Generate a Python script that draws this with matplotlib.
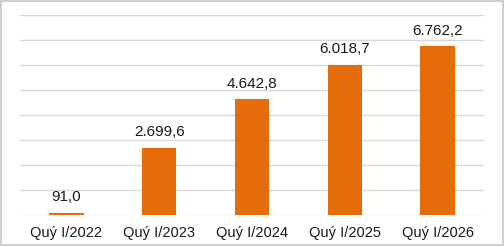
import matplotlib.pyplot as plt
from matplotlib.patches import Rectangle

plt.rcParams['font.family'] = ['Liberation Sans', 'DejaVu Sans']

quarters = ['Quý I/2022', 'Quý I/2023', 'Quý I/2024', 'Quý I/2025', 'Quý I/2026']
values = [91.0, 2699.6, 4642.8, 6018.7, 6762.2]
labels = ['91,0', '2.699,6', '4.642,8', '6.018,7', '6.762,2']

fig = plt.figure(figsize=(5.04, 2.46), dpi=100)
ax = fig.add_axes([20 / 504, 31 / 246, 464 / 504, 200 / 246])

x = range(len(quarters))
ax.bar(x, values, width=0.37, color='#E46C0A', zorder=3)
for i, v in enumerate(values):
    ax.annotate(labels[i], (i, v), xytext=(0, 6), textcoords='offset points',
                ha='center', va='bottom', fontsize=11, color='#1a1a1a')

ax.set_xlim(-0.5, 4.5)
ax.set_ylim(0, 8000)
ax.set_yticks(range(0, 8001, 1000))
ax.yaxis.grid(True, color='#D9D9D9', linewidth=1)
ax.set_yticklabels([])
ax.tick_params(axis='y', length=0)
ax.set_xticks(list(x))
ax.set_xticklabels(quarters, fontsize=10.5, color='#1a1a1a')
ax.tick_params(axis='x', length=0, pad=8)
for s in ax.spines.values():
    s.set_visible(False)

fig.patches.append(Rectangle((0.002, 0.004), 0.996, 0.992, transform=fig.transFigure,
                             fill=False, edgecolor='#D0D0D0', linewidth=1.5))

fig.savefig('out.png', dpi=100)
